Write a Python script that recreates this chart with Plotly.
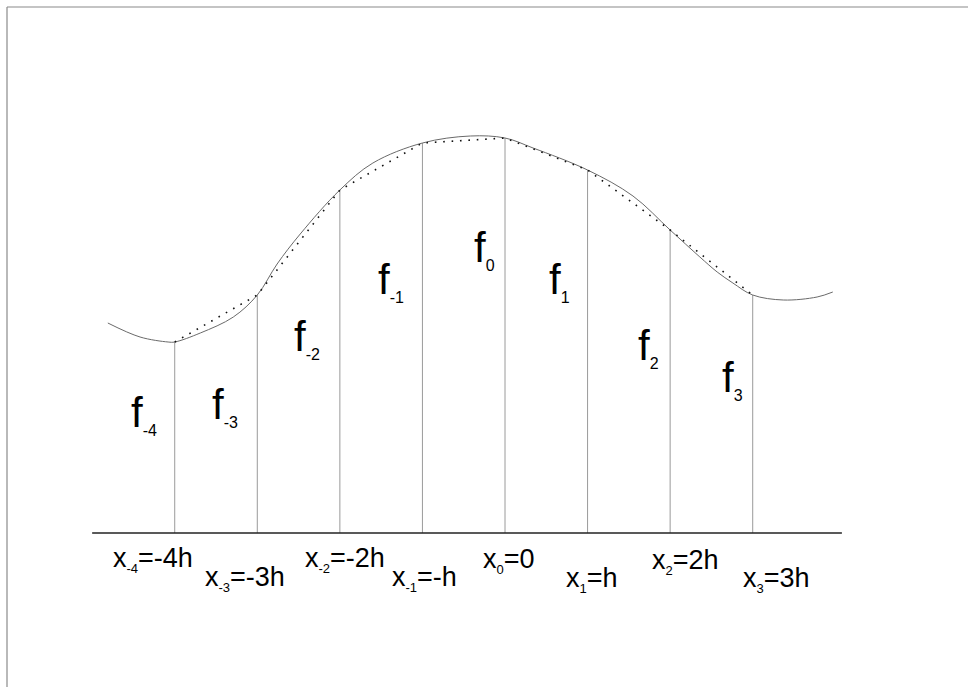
import plotly.graph_objects as go

# ---- data (x in units of h, f in arbitrary units) ----
node_k = [-4, -3, -2, -1, 0, 1, 2, 3]
node_f = [1.91, 2.38, 3.43, 3.90, 3.95, 3.63, 3.03, 2.38]

curve_x = [-4.81, -4.42, -4.08, -4.0, -3.69, -3.29, -3.0, -2.76, -2.48, -2.0,
           -1.60, -1.0, -0.42, 0.0, 0.34, 1.0, 1.55, 2.0, 2.36, 2.57, 2.76,
           3.0, 3.37, 3.78, 3.97]
curve_f = [2.10, 1.96, 1.91, 1.91, 2.00, 2.16, 2.38, 2.69, 2.99, 3.43,
           3.70, 3.90, 3.97, 3.95, 3.85, 3.63, 3.37, 3.03, 2.76, 2.61, 2.50,
           2.38, 2.33, 2.36, 2.41]

axis_x = [-5.0, 4.08]

f_sub = ["-4", "-3", "-2", "-1", "0", "1", "2", "3"]
x_labels = ["-4h", "-3h", "-2h", "-h", "0", "h", "2h", "3h"]

# label placement (pixel -> data conversion below)
f_lab_px = [132, 213, 295, 379, 475, 550, 639, 723]
f_lab_py = [430, 422, 354, 297, 265, 297, 363, 395]
x_lab_px = [153, 245, 345, 424.5, 509, 592, 685, 776]
x_lab_py = [567, 586, 567, 586, 568, 587, 569, 587]

W, H = 968, 687
X0, HPX, Y0, UPX = 505.0, 82.57, 533.0, 100.0


def dx(px):
    return (px - X0) / HPX


def dy(py):
    return (Y0 - py) / UPX


FONT = "Liberation Sans, Arial, Helvetica, sans-serif"

fig = go.Figure()

# vertical ordinate lines
vx, vy = [], []
for k, f in zip(node_k, node_f):
    vx += [k, k, None]
    vy += [0, f, None]
fig.add_trace(go.Scatter(x=vx, y=vy, mode="lines",
                         line=dict(color="#9a9a9a", width=1),
                         hoverinfo="skip", showlegend=False))

# baseline
fig.add_trace(go.Scatter(x=axis_x, y=[0, 0], mode="lines",
                         line=dict(color="#222222", width=1.5),
                         hoverinfo="skip", showlegend=False))

# smooth function
fig.add_trace(go.Scatter(x=curve_x, y=curve_f, mode="lines",
                         line=dict(color="#6a6a6a", width=1, shape="spline",
                                   smoothing=1.0),
                         hoverinfo="skip", showlegend=False))

# dotted chords
fig.add_trace(go.Scatter(x=node_k, y=node_f, mode="lines",
                         line=dict(color="#111111", width=1.6, dash="1.6px,6.8px"),
                         hoverinfo="skip", showlegend=False))

annotations = []
for s, px, py in zip(f_sub, f_lab_px, f_lab_py):
    annotations.append(dict(
        x=dx(px), y=dy(py), xref="x", yref="y", showarrow=False,
        xanchor="left", yanchor="bottom", yshift=-11, xshift=-3,
        text='f<sub><span style="font-size:16px">%s</span></sub>' % s,
        font=dict(family=FONT, size=42, color="#000000")))

for k, lab, px, py in zip(node_k, x_labels, x_lab_px, x_lab_py):
    annotations.append(dict(
        x=dx(px), y=dy(py), xref="x", yref="y", showarrow=False,
        xanchor="center", yanchor="bottom", yshift=-11,
        text='x<sub><span style="font-size:13px">%d</span></sub>=%s' % (k, lab),
        font=dict(family=FONT, size=27, color="#000000")))

shapes = [
    dict(type="line", xref="paper", yref="paper", x0=7 / W, x1=1,
         y0=1 - 7 / H, y1=1 - 7 / H, line=dict(color="#8a8a8a", width=1.2)),
    dict(type="line", xref="paper", yref="paper", x0=7 / W, x1=7 / W,
         y0=0, y1=1 - 7 / H, line=dict(color="#8a8a8a", width=1.2)),
]

fig.update_layout(
    width=W, height=H,
    margin=dict(l=0, r=0, t=0, b=0),
    paper_bgcolor="white", plot_bgcolor="white",
    xaxis=dict(range=[dx(0), dx(W)], visible=False, fixedrange=True),
    yaxis=dict(range=[dy(H), dy(0)], visible=False, fixedrange=True),
    annotations=annotations, shapes=shapes, showlegend=False,
)

fig.write_html("out.html",
               config={"displayModeBar": False},
               post_script="document.body.style.margin='0';"
                           "document.body.style.overflow='hidden';")
